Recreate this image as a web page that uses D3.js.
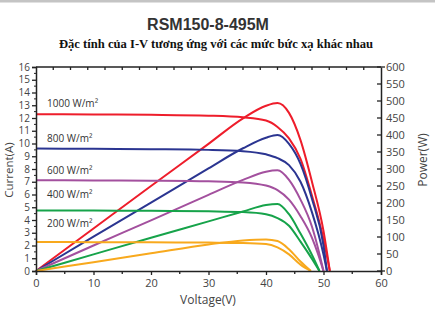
<!DOCTYPE html>
<html>
<head>
<meta charset="utf-8">
<script src="https://cdn.jsdelivr.net/npm/d3@7"></script>
<style>
body{margin:0;background:#fff;}
svg{display:block;}
</style>
</head>
<body>
<div id="chart"></div>
<script>
// irradiance series, values
const series = ["1000 W/m²", "800 W/m²", "600 W/m²", "400 W/m²", "200 W/m²"];
const colors = ["#ee1d2b", "#2b3591", "#a3509e", "#16a34a", "#f8a91d"];

const volt1000 = [0, 10, 20, 30, 36, 40, 42, 44, 46, 48, 50, 51.1];
const curr1000 = [12.3, 12.28, 12.25, 12.18, 12.05, 11.8, 11.3, 10.4, 8.8, 5.9, 2.5, 0];
const pow1000 = [0, 125, 250, 374, 449, 486, 494, 465, 385, 262, 118, 0];

const volt800 = [0, 10, 20, 30, 36, 40, 42, 44, 46, 48, 50, 50.6];
const curr800 = [9.6, 9.58, 9.55, 9.5, 9.4, 9.15, 8.85, 8.3, 7.0, 4.6, 1.3, 0];
const pow800 = [0, 101, 201, 302, 361, 392, 400, 374, 315, 212, 75, 0];

const volt600 = [0, 10, 20, 30, 36, 40, 42, 44, 46, 48, 49, 50];
const curr600 = [7.12, 7.1, 7.08, 7.03, 6.95, 6.7, 6.35, 5.6, 4.3, 2.6, 1.4, 0];
const pow600 = [0, 75, 149, 224, 268, 292, 296, 268, 210, 130, 70, 0];

const volt400 = [0, 10, 20, 30, 36, 40, 42, 44, 46, 48, 49.3];
const curr400 = [4.75, 4.74, 4.72, 4.68, 4.62, 4.45, 4.15, 3.55, 2.3, 0.95, 0];
const pow400 = [0, 49, 98, 146, 175, 194, 197, 167, 110, 47, 0];

const volt200 = [0, 10, 20, 30, 36, 40, 42, 44, 46, 47.8];
const curr200 = [2.27, 2.26, 2.25, 2.23, 2.2, 2.12, 1.85, 1.3, 0.5, 0];
const pow200 = [0, 26, 52, 78, 90, 93, 88, 64, 28, 0];

const volts = [volt1000, volt800, volt600, volt400, volt200];
const currents = [curr1000, curr800, curr600, curr400, curr200];
const powers = [pow1000, pow800, pow600, pow400, pow200];

const xTicks = [0, 10, 20, 30, 40, 50, 60];
const iTicks = d3.range(0, 17, 1);
const pTicks = d3.range(0, 601, 50);

const W = 435, H = 310;
const svg = d3.select("#chart").append("svg").attr("width", W).attr("height", H);

svg.append("rect").attr("x", 0).attr("y", 0).attr("width", W).attr("height", 2.5).attr("fill", "#c4c4c4");

svg.append("text").attr("x", 208).attr("y", 30)
  .attr("text-anchor", "middle")
  .style("font-family", "Liberation Sans, Arial, sans-serif")
  .style("font-weight", "bold").style("font-size", "16px").attr("fill", "#333")
  .text("RSM150-8-495M");
svg.append("text").attr("x", 216).attr("y", 48)
  .attr("text-anchor", "middle")
  .style("font-family", "Liberation Serif, Times New Roman, serif")
  .style("font-weight", "bold").style("font-size", "12.6px").attr("fill", "#111")
  .text("Đặc tính của I-V tương ứng với các mức bức xạ khác nhau");

const x = d3.scaleLinear().domain([0, 60]).range([36, 381]);
const yI = d3.scaleLinear().domain([0, 16]).range([271, 67]);
const yP = d3.scaleLinear().domain([0, 600]).range([271, 67]);

const font = "Open Sans, DejaVu Sans, sans-serif";
const axisColor = "#222";

// curves
const lineIV = d3.line().x(d => x(d[0])).y(d => yI(d[1])).curve(d3.curveMonotoneX);
const linePV = d3.line().x(d => x(d[0])).y(d => yP(d[1])).curve(d3.curveMonotoneX);
const plot = svg.append("g");
series.forEach((s, i) => {
  const iv = volts[i].map((v, k) => [v, currents[i][k]]);
  const pv = volts[i].map((v, k) => [v, powers[i][k]]);
  plot.append("path").attr("d", lineIV(iv)).attr("fill", "none")
    .attr("stroke", colors[i]).attr("stroke-width", 2);
  plot.append("path").attr("d", linePV(pv)).attr("fill", "none")
    .attr("stroke", colors[i]).attr("stroke-width", 2);
});

// irradiance labels (pixel lift above each I-V line)
const labelLift = [11, 10, 10, 16, 19];
series.forEach((s, i) => {
  svg.append("text").attr("x", 47).attr("y", yI(currents[i][0]) - labelLift[i] + 3.5)
    .style("font-family", font).style("font-size", "10px").attr("fill", "#333")
    .text(s);
});

// frame
svg.append("line").attr("x1", 36).attr("x2", 381).attr("y1", 67).attr("y2", 67)
  .attr("stroke", axisColor).attr("stroke-width", 1.5);
svg.append("g").selectAll("line").data(d3.range(3, 60, 3)).join("line")
  .attr("x1", d => x(d)).attr("x2", d => x(d)).attr("y1", 67).attr("y2", 70)
  .attr("stroke", axisColor).attr("stroke-width", 1.3);

// bottom axis
const gx = svg.append("g").attr("transform", "translate(0,271)")
  .call(d3.axisBottom(x).tickValues(xTicks).tickSize(4).tickPadding(4).tickFormat(d3.format("d")));
svg.append("g").selectAll("line").data(d3.range(5, 60, 10)).join("line")
  .attr("x1", d => x(d)).attr("x2", d => x(d)).attr("y1", 271).attr("y2", 274)
  .attr("stroke", axisColor).attr("stroke-width", 1.3);

// left axis
const gl = svg.append("g").attr("transform", "translate(36,0)")
  .call(d3.axisLeft(yI).tickValues(iTicks).tickSize(4).tickPadding(2).tickFormat(d3.format("d")));
svg.append("g").selectAll("line").data(d3.range(0.5, 16, 1)).join("line")
  .attr("x1", 34).attr("x2", 36).attr("y1", d => yI(d)).attr("y2", d => yI(d))
  .attr("stroke", axisColor).attr("stroke-width", 1);

// right axis
const gr = svg.append("g").attr("transform", "translate(381,0)")
  .call(d3.axisRight(yP).tickValues(pTicks).tickSize(0).tickPadding(5).tickFormat(d3.format("d")));
svg.append("g").selectAll("line").data(pTicks).join("line")
  .attr("x1", 377).attr("x2", d => (d === 0 || d === 600) ? 385 : 381)
  .attr("y1", d => yP(d)).attr("y2", d => yP(d))
  .attr("stroke", axisColor).attr("stroke-width", 1.3);

[gx, gl, gr].forEach(g => {
  g.select(".domain").attr("stroke", axisColor).attr("stroke-width", 1.5);
  g.selectAll(".tick line").attr("stroke", axisColor).attr("stroke-width", 1.3);
  g.selectAll("text").style("font-family", font).style("font-size", "11px").attr("fill", "#444");
});
gl.selectAll("text").style("font-size", "10px");

// axis titles
svg.append("text").attr("x", 208).attr("y", 304).attr("text-anchor", "middle")
  .style("font-family", font).style("font-size", "12px").attr("fill", "#444")
  .text("Voltage(V)");
svg.append("text").attr("transform", "translate(13,170) rotate(-90)").attr("text-anchor", "middle")
  .style("font-family", font).style("font-size", "11.5px").attr("fill", "#444")
  .text("Current(A)");
svg.append("text").attr("transform", "translate(427,160) rotate(-90)").attr("text-anchor", "middle")
  .style("font-family", font).style("font-size", "12px").attr("fill", "#444")
  .text("Power(W)");
</script>
</body>
</html>
